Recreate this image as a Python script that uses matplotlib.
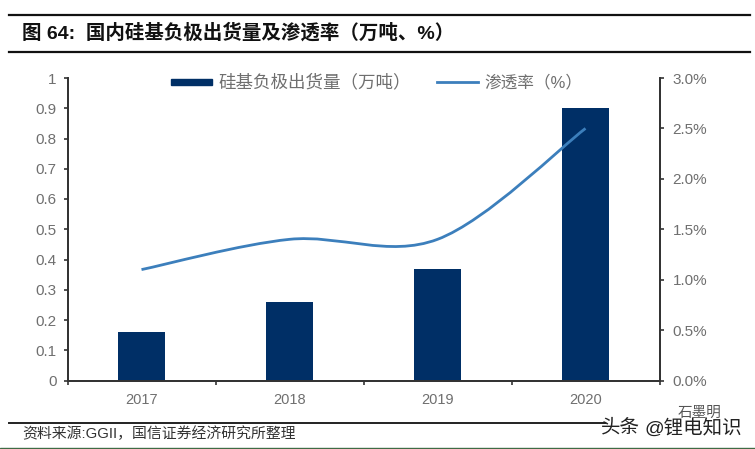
import matplotlib
matplotlib.use('Agg')
import matplotlib.pyplot as plt
from matplotlib.lines import Line2D
from matplotlib.patches import PathPatch, Rectangle
from matplotlib.path import Path
from matplotlib.ticker import FuncFormatter

plt.rcParams['font.family'] = ['Liberation Sans', 'Noto Sans CJK SC', 'DejaVu Sans']

years = ['2017', '2018', '2019', '2020']
shipments = [0.16, 0.26, 0.37, 0.90]
penetration = [1.1, 1.4, 1.4, 2.5]

title = '图 64:  国内硅基负极出货量及渗透率（万吨、%）'
source = '资料来源:GGII，国信证券经济研究所整理'
bar_label = '硅基负极出货量（万吨）'
line_label = '渗透率（%）'

W, H = 755, 449
navy = '#002f66'
blue = '#3c7fbc'
grey = '#6f6f6f'
dark = '#333333'


def fx(px):
    return px / W


def fy(py):
    return 1 - py / H


fig = plt.figure(figsize=(W / 100, H / 100), dpi=100)
ax = fig.add_axes([fx(67.5), fy(380.5), (659.5 - 67.5) / W, (380.5 - 78) / H])
x = list(range(len(years)))

ax.bar(x, shipments, width=0.32, color=navy, zorder=2)
ax.set_xlim(-0.5, 3.5)
ax.set_ylim(0, 1)
ax.set_yticks([i / 10 for i in range(11)])
ax.set_yticklabels(['0', '0.1', '0.2', '0.3', '0.4', '0.5', '0.6', '0.7', '0.8', '0.9', '1'])
ax.set_xticks([-0.5, 0.5, 1.5, 2.5, 3.5])
ax.set_xticklabels([])
ax.set_xticks(x, minor=True)
ax.set_xticklabels(years, minor=True)
ax.tick_params(axis='x', which='minor', length=0, pad=9, labelsize=10.5, labelcolor=grey)
ax.tick_params(axis='x', which='major', length=3, width=1.2, direction='out', color=dark)
ax.tick_params(axis='y', length=3, width=1.2, direction='out', color=dark, pad=5,
               labelsize=11, labelcolor=grey)

ax2 = ax.twinx()
ax2.set_ylim(0, 3)
ax2.set_yticks([0, 0.5, 1, 1.5, 2, 2.5, 3])
ax2.yaxis.set_major_formatter(FuncFormatter(lambda v, _: f'{v:.1f}%'))
ax2.tick_params(axis='y', length=3, width=1.2, direction='out', color=dark, pad=6.5,
                labelsize=11, labelcolor=grey)

for a in (ax, ax2):
    a.spines['top'].set_visible(False)
    for side in ('left', 'right', 'bottom'):
        a.spines[side].set_linewidth(1.3)
        a.spines[side].set_color(dark)

# smoothed line like the office chart: bezier handles from neighbouring points
verts = [(x[0], penetration[0])]
codes = [Path.MOVETO]
n = len(x)
for i in range(n - 1):
    p0 = (x[max(i - 1, 0)], penetration[max(i - 1, 0)])
    p1 = (x[i], penetration[i])
    p2 = (x[i + 1], penetration[i + 1])
    p3 = (x[min(i + 2, n - 1)], penetration[min(i + 2, n - 1)])
    c1 = (p1[0] + (p2[0] - p0[0]) / 6, p1[1] + (p2[1] - p0[1]) / 6)
    c2 = (p2[0] - (p3[0] - p1[0]) / 6, p2[1] - (p3[1] - p1[1]) / 6)
    verts += [c1, c2, p2]
    codes += [Path.CURVE4, Path.CURVE4, Path.CURVE4]
ax2.add_patch(PathPatch(Path(verts, codes), fill=False, edgecolor=blue, linewidth=2, zorder=3))

# legend
fig.add_artist(Rectangle((fx(171), fy(85)), 41 / W, 6 / H, transform=fig.transFigure, color=navy))
fig.text(fx(218), fy(82), bar_label, fontsize=12.6, color=grey, va='center', ha='left')
fig.add_artist(Line2D([fx(437), fx(478)], [fy(82), fy(82)], color=blue, linewidth=2))
fig.text(fx(484), fy(82), line_label, fontsize=12, color=grey, va='center', ha='left')

# header and footer
for py, lw in ((15, 1.6), (52, 1.6)):
    fig.add_artist(Line2D([fx(9), fx(750)], [fy(py), fy(py)], color='#111111', linewidth=lw))
fig.add_artist(Line2D([fx(9), fx(605)], [fy(423), fy(423)], color='#222222', linewidth=1.4))
fig.text(fx(22), fy(33), title, fontsize=14, fontweight='bold', color='#111111', va='center', ha='left')
fig.text(fx(22), fy(434), source, fontsize=10.7, color='#333333', va='center', ha='left')

# watermark
fig.text(fx(601), fy(428), '头条', fontsize=14, color='#222222', va='center', ha='left')
fig.text(fx(644), fy(428), '@锂电知识', fontsize=14, color='#222222', va='center', ha='left')
fig.text(fx(678), fy(413), '石墨明', fontsize=10.5, color='#555555', va='center', ha='left')

# thin dark green strip along the bottom edge
fig.add_artist(Rectangle((0, 0), 1, 1.5 / H, transform=fig.transFigure, color='#3f6b45'))

fig.savefig('out.png', dpi=100)
